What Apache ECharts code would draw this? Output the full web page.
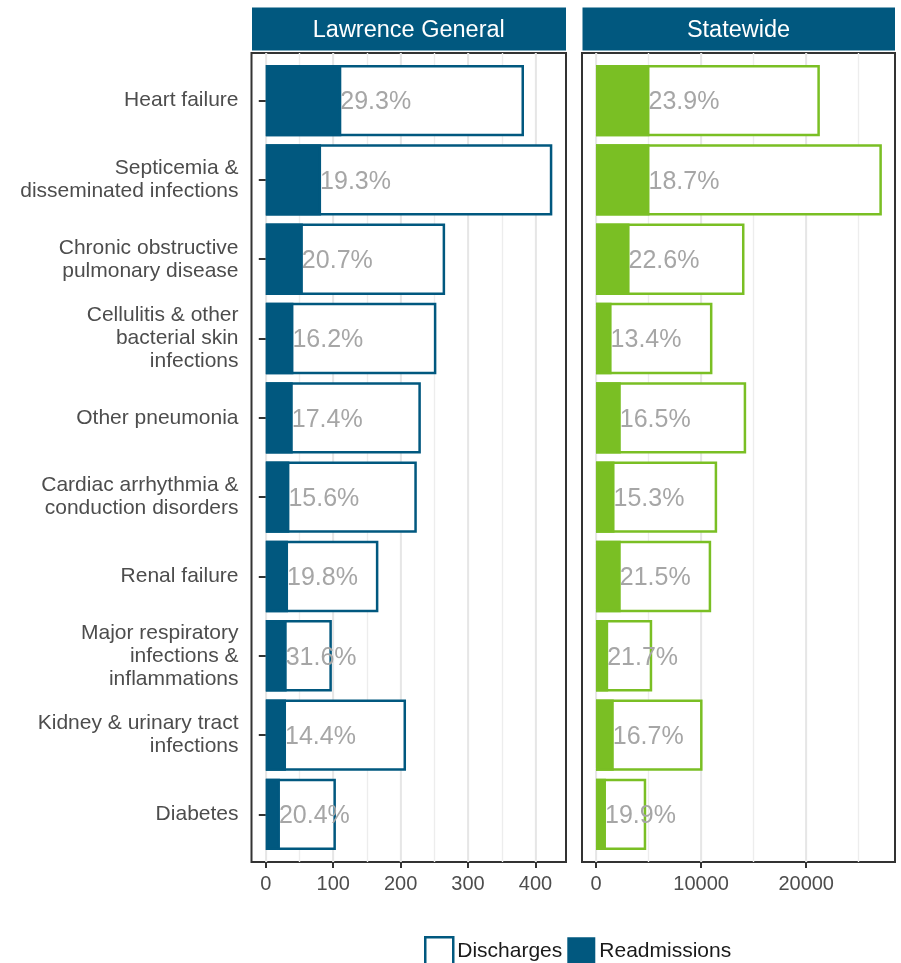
<!DOCTYPE html>
<html>
<head>
<meta charset="utf-8">
<script src="https://cdn.jsdelivr.net/npm/echarts@6/dist/echarts.min.js"></script>
<style>
html,body{margin:0;padding:0;background:#fff;}
#chart{width:901px;height:963px;}
</style>
</head>
<body>
<div id="chart"></div>
<script>
const categories = [
  'Heart failure',
  'Septicemia &\ndisseminated infections',
  'Chronic obstructive\npulmonary disease',
  'Cellulitis & other\nbacterial skin\ninfections',
  'Other pneumonia',
  'Cardiac arrhythmia &\nconduction disorders',
  'Renal failure',
  'Major respiratory\ninfections &\ninflammations',
  'Kidney & urinary tract\ninfections',
  'Diabetes'
];
const panelTitles = ['Lawrence General', 'Statewide'];

const lgDischarges   = [383, 425, 266, 253, 230, 224, 167, 98, 208, 104];
const lgReadmissions = [112, 82, 55, 41, 40, 35, 33, 31, 30, 21];
const lgPct = ['29.3%','19.3%','20.7%','16.2%','17.4%','15.6%','19.8%','31.6%','14.4%','20.4%'];

const swDischarges   = [21300, 27200, 14130, 11080, 14290, 11530, 10960, 5350, 10140, 4780];
const swReadmissions = [5090, 5090, 3195, 1485, 2360, 1765, 2356, 1160, 1693, 951];
const swPct = ['23.9%','18.7%','22.6%','13.4%','16.5%','15.3%','21.5%','21.7%','16.7%','19.9%'];

// tick / gridline settings per panel
const lgTickMax = 400, lgTickStep = 100, lgMinorMax = 400, lgMinorStep = 50;
const swTickMax = 20000, swTickStep = 10000, swMinorMax = 25000, swMinorStep = 5000;

const BLUE = '#01587F';
const GREEN = '#7ABF24';
const FONT = 'Liberation Sans, Arial, Helvetica, sans-serif';

const TOP = 53, BOTTOM = 862;
const panels = [
  {l: 251.5, r: 566, min: -21.2, max: 445.3, color: BLUE,
   tickMax: lgTickMax, tickStep: lgTickStep, minorMax: lgMinorMax, minorStep: lgMinorStep,
   dis: lgDischarges, rea: lgReadmissions, pct: lgPct},
  {l: 582, r: 895, min: -1330, max: 28450, color: GREEN,
   tickMax: swTickMax, tickStep: swTickStep, minorMax: swMinorMax, minorStep: swMinorStep,
   dis: swDischarges, rea: swReadmissions, pct: swPct}
];
function px(p, v) { return p.l + (v - p.min) / (p.max - p.min) * (p.r - p.l); }
const H = BOTTOM - TOP;
const unit = H / (categories.length - 1 + 1.2);
const dataTop = TOP + 0.1 * unit;
const dataH = unit * categories.length;

const grid = [], xAxis = [], yAxis = [], series = [], graphic = [];
panels.forEach((p, i) => {
  // minor gridlines grid
  const gm = grid.length;
  grid.push({left: px(p, 0), top: TOP, width: px(p, p.minorMax) - px(p, 0), height: H});
  xAxis.push({
    gridIndex: gm, type: 'value', min: 0, max: p.minorMax, interval: p.minorStep,
    axisLine: {show: false}, axisTick: {show: false}, axisLabel: {show: false},
    splitLine: {show: true, lineStyle: {color: '#ededed', width: 1.4}}
  });
  yAxis.push({gridIndex: gm, type: 'value', show: false, splitLine: {show: false}});
  // major gridlines + ticks grid
  const g0 = grid.length;
  grid.push({left: px(p, 0), top: TOP, width: px(p, p.tickMax) - px(p, 0), height: H});
  xAxis.push({
    gridIndex: g0, type: 'value', min: 0, max: p.tickMax, interval: p.tickStep,
    axisLine: {show: false},
    axisTick: {show: true, length: 6, lineStyle: {color: '#333', width: 2}},
    axisLabel: {color: '#4d4d4d', fontSize: 20, fontFamily: FONT, margin: 12,
      formatter: v => String(v)},
    splitLine: {show: true, lineStyle: {color: '#e4e4e4', width: 1.7}}
  });
  yAxis.push({gridIndex: g0, type: 'value', show: false, splitLine: {show: false}});
  // border grid
  const g1 = grid.length;
  grid.push({left: p.l, top: TOP, width: p.r - p.l, height: H, show: true,
    borderColor: '#333', borderWidth: 2, backgroundColor: 'transparent'});
  xAxis.push({gridIndex: g1, type: 'value', show: false, splitLine: {show: false}});
  yAxis.push({gridIndex: g1, type: 'value', show: false, splitLine: {show: false}});
  // data grid
  const g2 = grid.length;
  grid.push({left: p.l, top: dataTop, width: p.r - p.l, height: dataH});
  xAxis.push({gridIndex: g2, type: 'value', min: p.min, max: p.max, show: false, splitLine: {show: false}});
  yAxis.push({
    gridIndex: g2, type: 'category', data: categories, inverse: true, show: i === 0,
    axisLine: {show: false},
    axisTick: {show: true, alignWithLabel: true, length: 7, lineStyle: {color: '#333', width: 2}},
    axisLabel: {color: '#4d4d4d', fontSize: 21, lineHeight: 23, fontFamily: FONT, margin: 13, interval: 0,
      align: 'right', padding: [2, 0, 0, 0]},
    splitLine: {show: false}
  });
  series.push({
    name: 'Discharges', type: 'bar', xAxisIndex: g2, yAxisIndex: g2,
    data: p.dis, barWidth: '90%', barGap: '-100%', z: 2,
    itemStyle: {color: '#fff', borderColor: p.color, borderWidth: 2.5}
  });
  series.push({
    name: 'Readmissions', type: 'bar', xAxisIndex: g2, yAxisIndex: g2,
    data: p.rea, barWidth: '90%', barGap: '-100%', z: 3,
    itemStyle: {color: p.color, borderColor: p.color, borderWidth: 2.5},
    label: {show: true, position: 'right', distance: -1, offset: [0, 2], color: '#a6a6a6', fontSize: 25, fontFamily: FONT,
      formatter: (prm) => p.pct[prm.dataIndex]}
  });
  graphic.push({type: 'rect', shape: {x: p.l + 0.5, y: 7.5, width: p.r - p.l - 0.5, height: 43}, style: {fill: BLUE}, z: 10});
  graphic.push({type: 'text', x: (p.l + p.r) / 2, y: 30.5, z: 11,
    style: {text: panelTitles[i], fill: '#fff', fontSize: 23.5, fontFamily: FONT, align: 'center', verticalAlign: 'middle'}});
});

const chart = echarts.init(document.getElementById('chart'), null, {renderer: 'canvas'});
chart.setOption({
  animation: false,
  backgroundColor: '#fff',
  textStyle: {fontFamily: FONT},
  legend: {
    left: 424, top: 936, padding: 0, itemWidth: 28, itemHeight: 28, itemGap: 5, selectedMode: false,
    textStyle: {fontSize: 21, color: '#1a1a1a', fontFamily: FONT, padding: [0, 0, 0, -1]},
    data: [
      {name: 'Discharges', icon: 'rect', itemStyle: {color: '#fff', borderColor: BLUE, borderWidth: 2.5}},
      {name: 'Readmissions', icon: 'rect', itemStyle: {color: BLUE, borderWidth: 0}}
    ]
  },
  grid, xAxis, yAxis, series, graphic
});
</script>
</body>
</html>
